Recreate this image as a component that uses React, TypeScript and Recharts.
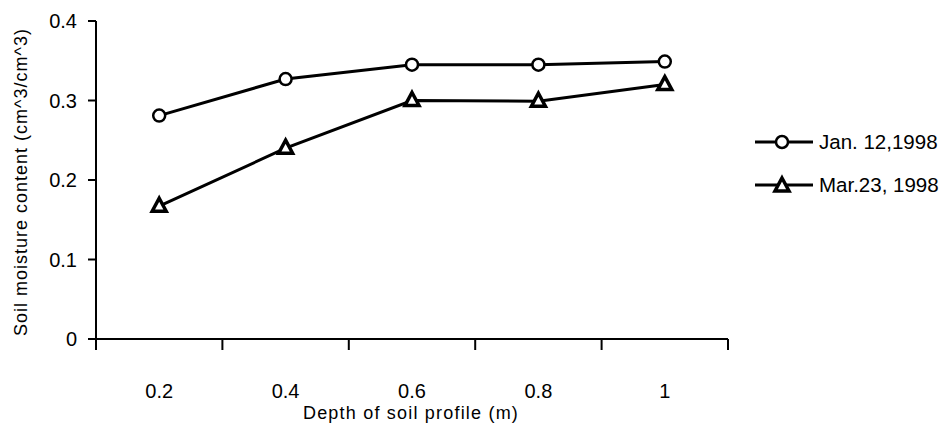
import { Legend, Line, LineChart, XAxis, YAxis } from 'recharts';

const depths = [0.2, 0.4, 0.6, 0.8, 1];
const depthLabels = ['0.2', '0.4', '0.6', '0.8', '1'];
const janValues = [0.281, 0.327, 0.345, 0.345, 0.349];
const marValues = [0.167, 0.24, 0.3, 0.299, 0.32];
const yTicks = [0, 0.1, 0.2, 0.3, 0.4];
// category edges sit between the depths, like the old spreadsheet axis
const xTicks = [0.1, 0.2, 0.3, 0.4, 0.5, 0.6, 0.7, 0.8, 0.9, 1.0, 1.1];

const data = depths.map((d, i) => ({ depth: d, jan: janValues[i], mar: marValues[i] }));

const FONT = '"Liberation Sans", Arial, sans-serif';

function Triangle({ cx, cy }: { cx: number; cy: number }) {
  const h = 7;
  return (
    <path
      d={`M${cx},${cy - h - 1} L${cx + h},${cy + h - 2} L${cx - h},${cy + h - 2} Z`}
      fill="#fff"
      stroke="#000"
      strokeWidth={3.5}
      strokeLinejoin="miter"
    />
  );
}

function XTick(props: any) {
  const { x, y, index } = props;
  if (index % 2 === 0) {
    return <line x1={x} y1={y} x2={x} y2={y + 11} stroke="#000" strokeWidth={2} />;
  }
  return (
    <text x={x} y={y + 59} textAnchor="middle" fontSize={20} fontFamily={FONT} fill="#000">
      {depthLabels[(index - 1) / 2]}
    </text>
  );
}

function LegendBox() {
  const rows = [
    { name: 'Jan. 12,1998', shape: 'circle' },
    { name: 'Mar.23, 1998', shape: 'triangle' },
  ];
  return (
    <div style={{ fontFamily: FONT, fontSize: 20.5, color: '#000' }}>
      {rows.map((r) => (
        <div key={r.name} style={{ display: 'flex', alignItems: 'center', height: 43 }}>
          <svg width={62} height={24} style={{ marginRight: 4 }}>
            <line x1={2} y1={12} x2={60} y2={12} stroke="#000" strokeWidth={3} />
            {r.shape === 'circle' ? (
              <circle cx={29} cy={12} r={6} fill="#fff" stroke="#000" strokeWidth={2.5} />
            ) : (
              <Triangle cx={29} cy={13} />
            )}
          </svg>
          <span>{r.name}</span>
        </div>
      ))}
    </div>
  );
}

export default function App() {
  return (
    <div style={{ position: 'absolute', left: 0, top: 0, width: 951, height: 433, background: '#fff' }}>
      <LineChart width={951} height={433} data={data} margin={{ top: 21, right: 223, bottom: 34, left: 36 }}>
        <XAxis
          dataKey="depth"
          type="number"
          domain={[0.1, 1.1]}
          ticks={xTicks}
          interval={0}
          tickSize={0}
          tickMargin={0}
          tickLine={false}
          tick={<XTick />}
          height={60}
          axisLine={{ stroke: '#000', strokeWidth: 2 }}
        />
        <YAxis
          domain={[0, 0.4]}
          ticks={yTicks}
          interval={0}
          width={60}
          tickSize={8}
          tickMargin={11}
          axisLine={{ stroke: '#000', strokeWidth: 2 }}
          tickLine={{ stroke: '#000', strokeWidth: 2 }}
          tick={{ fontSize: 20, fontFamily: FONT, fill: '#000' }}
          tickFormatter={(v: number) => (v === 0 ? '0' : String(v))}
        />
        <Legend
          layout="horizontal"
          verticalAlign="middle"
          align="center"
          wrapperStyle={{ left: 753, top: 120, width: 198 }}
          content={() => <LegendBox />}
        />
        <Line
          dataKey="jan"
          name="Jan. 12,1998"
          stroke="#000"
          strokeWidth={3}
          isAnimationActive={false}
          dot={{ r: 6, fill: '#fff', stroke: '#000', strokeWidth: 2.5 }}
        />
        <Line
          dataKey="mar"
          name="Mar.23, 1998"
          stroke="#000"
          strokeWidth={3}
          isAnimationActive={false}
          dot={(p: any) => <Triangle key={`tri-${p.index}`} cx={p.cx} cy={p.cy} />}
        />
      </LineChart>
      <div
        style={{
          position: 'absolute',
          left: 411,
          top: 404,
          transform: 'translateX(-50%)',
          fontFamily: FONT,
          fontSize: 18,
          lineHeight: 1,
          letterSpacing: 1.2,
          whiteSpace: 'nowrap',
        }}
      >
        Depth of soil profile (m)
      </div>
      <div
        style={{
          position: 'absolute',
          left: 21,
          top: 182,
          transform: 'translate(-50%, -50%) rotate(-90deg)',
          fontFamily: FONT,
          fontSize: 18,
          letterSpacing: 1,
          whiteSpace: 'nowrap',
        }}
      >
        Soil moisture content (cm^3/cm^3)
      </div>
    </div>
  );
}
